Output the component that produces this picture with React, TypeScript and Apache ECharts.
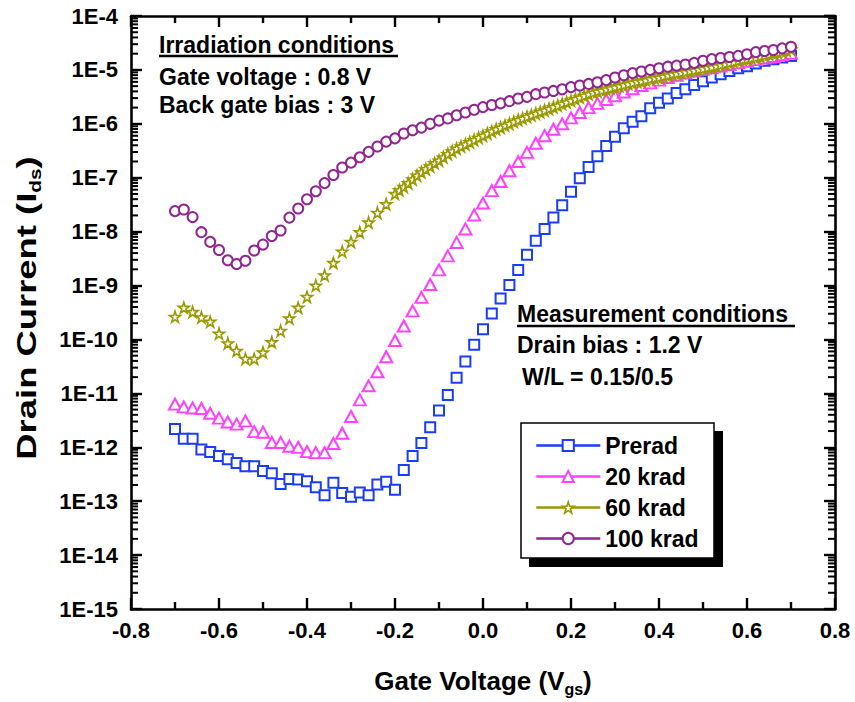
import React, { useEffect, useRef } from "react";
import * as echarts from "echarts";

const FONT = 'Arial, "Liberation Sans", sans-serif';
const BLUE = "#1a3cff";
const PINK = "#ff40ff";
const OLIVE = "#999900";
const PURPLE = "#912591";

// Gate voltage sweep (V), 0.02 V steps
const VGS = [
  -0.7, -0.68, -0.66, -0.64, -0.62, -0.6, -0.58, -0.56, -0.54, -0.52, -0.5, -0.48, -0.46, -0.44, -0.42, -0.4,
  -0.38, -0.36, -0.34, -0.32, -0.3, -0.28, -0.26, -0.24, -0.22, -0.2, -0.18, -0.16, -0.14, -0.12, -0.1, -0.08,
  -0.06, -0.04, -0.02, 0.0, 0.02, 0.04, 0.06, 0.08, 0.1, 0.12, 0.14, 0.16, 0.18, 0.2, 0.22, 0.24, 0.26, 0.28,
  0.3, 0.32, 0.34, 0.36, 0.38, 0.4, 0.42, 0.44, 0.46, 0.48, 0.5, 0.52, 0.54, 0.56, 0.58, 0.6, 0.62, 0.64, 0.66,
  0.68, 0.7,
];

// 60 krad sweep: 0.02 V steps, then 0.01 V steps from -0.20 V
const VGS_60 = [
  -0.7, -0.68, -0.66, -0.64, -0.62, -0.6, -0.58, -0.56, -0.54, -0.52, -0.5, -0.48, -0.46, -0.44, -0.42, -0.4,
  -0.38, -0.36, -0.34, -0.32, -0.3, -0.28, -0.26, -0.24, -0.22,
  -0.2, -0.19, -0.18, -0.17, -0.16, -0.15, -0.14, -0.13, -0.12, -0.11, -0.1, -0.09, -0.08, -0.07, -0.06, -0.05,
  -0.04, -0.03, -0.02, -0.01, 0.0, 0.01, 0.02, 0.03, 0.04, 0.05, 0.06, 0.07, 0.08, 0.09, 0.1, 0.11, 0.12, 0.13,
  0.14, 0.15, 0.16, 0.17, 0.18, 0.19, 0.2, 0.21, 0.22, 0.23, 0.24, 0.25, 0.26, 0.27, 0.28, 0.29, 0.3, 0.31, 0.32,
  0.33, 0.34, 0.35, 0.36, 0.37, 0.38, 0.39, 0.4, 0.41, 0.42, 0.43, 0.44, 0.45, 0.46, 0.47, 0.48, 0.49, 0.5, 0.51,
  0.52, 0.53, 0.54, 0.55, 0.56, 0.57, 0.58, 0.59, 0.6, 0.61, 0.62, 0.63, 0.64, 0.65, 0.66, 0.67, 0.68, 0.69, 0.7,
];

// Drain current, as log10(Ids [A])
const PRERAD_LOG = [
  -11.66, -11.84, -11.84, -12.04, -12.09, -12.16, -12.22, -12.29, -12.35, -12.35, -12.44, -12.48, -12.68, -12.59,
  -12.6, -12.63, -12.74, -12.89, -12.66, -12.85, -12.92, -12.84, -12.89, -12.69, -12.64, -12.79, -12.42, -12.16,
  -11.92, -11.63, -11.32, -11.03, -10.71, -10.41, -10.1, -9.81, -9.52, -9.24, -8.99, -8.71, -8.43, -8.17, -7.95,
  -7.74, -7.51, -7.26, -7.01, -6.8, -6.6, -6.41, -6.24, -6.08, -5.96, -5.86, -5.71, -5.61, -5.53, -5.43, -5.36,
  -5.28, -5.21, -5.14, -5.08, -5.02, -4.97, -4.93, -4.88, -4.83, -4.8, -4.77, -4.74,
];
const KRAD20_LOG = [
  -11.2, -11.25, -11.27, -11.28, -11.37, -11.46, -11.53, -11.57, -11.51, -11.71, -11.72, -11.91, -11.91, -11.98,
  -12.0, -12.08, -12.1, -12.1, -11.93, -11.74, -11.43, -11.12, -10.86, -10.6, -10.32, -10.02, -9.75, -9.47, -9.22,
  -8.98, -8.71, -8.45, -8.2, -7.95, -7.69, -7.47, -7.24, -7.07, -6.87, -6.7, -6.53, -6.36, -6.22, -6.1, -6.0,
  -5.89, -5.79, -5.7, -5.62, -5.55, -5.48, -5.41, -5.35, -5.29, -5.24, -5.19, -5.14, -5.1, -5.06, -5.02, -4.99,
  -4.96, -4.93, -4.9, -4.87, -4.84, -4.81, -4.78, -4.75, -4.72, -4.69,
];
const KRAD60_LOG = [
  -9.58, -9.41, -9.49, -9.59, -9.67, -9.89, -10.07, -10.21, -10.36, -10.36, -10.24, -10.05, -9.84, -9.61, -9.41,
  -9.21, -9.0, -8.81, -8.58, -8.37, -8.19, -8.01, -7.83, -7.65, -7.49,
  -7.3, -7.23, -7.17, -7.1, -7.03, -6.96, -6.9, -6.84, -6.79, -6.73, -6.68, -6.62, -6.56, -6.51, -6.46, -6.42,
  -6.38, -6.34, -6.3, -6.26, -6.22, -6.18, -6.14, -6.1, -6.07, -6.03, -6.0, -5.96, -5.93, -5.9, -5.87, -5.84,
  -5.81, -5.78, -5.75, -5.72, -5.69, -5.66, -5.63, -5.6, -5.57, -5.54, -5.51, -5.48, -5.45, -5.42, -5.4, -5.38,
  -5.36, -5.34, -5.32, -5.3, -5.28, -5.26, -5.24, -5.22, -5.21, -5.19, -5.17, -5.15, -5.14, -5.12, -5.1, -5.08,
  -5.07, -5.05, -5.04, -5.02, -5.01, -4.99, -4.98, -4.96, -4.95, -4.93, -4.91, -4.89, -4.87, -4.85, -4.83, -4.81,
  -4.8, -4.78, -4.77, -4.75, -4.73, -4.71, -4.69, -4.68, -4.66, -4.64, -4.62,
];
const KRAD100_LOG = [
  -7.62, -7.59, -7.73, -8.01, -8.19, -8.34, -8.53, -8.6, -8.54, -8.35, -8.24, -8.08, -7.98, -7.74, -7.57, -7.4,
  -7.25, -7.1, -6.95, -6.81, -6.72, -6.62, -6.52, -6.42, -6.33, -6.27, -6.18, -6.12, -6.07, -6.0, -5.94, -5.9,
  -5.84, -5.79, -5.74, -5.69, -5.65, -5.62, -5.58, -5.53, -5.5, -5.45, -5.42, -5.39, -5.36, -5.32, -5.29, -5.26,
  -5.23, -5.19, -5.14, -5.1, -5.06, -5.03, -5.0, -4.97, -4.94, -4.92, -4.9, -4.87, -4.83, -4.8, -4.78, -4.76,
  -4.74, -4.71, -4.67, -4.65, -4.63, -4.6, -4.57,
];

const SERIES_NAMES = ["Prerad", "20 krad", "60 krad", "100 krad"];

// Axis ticks
const X_MIN = -0.8;
const X_MAX = 0.8;
const X_STEP = 0.2;
const Y_MIN = 1e-15;
const Y_MAX = 1e-4;
const Y_DECADES = [-15, -14, -13, -12, -11, -10, -9, -8, -7, -6, -5];
const Y_MINOR_MANT = [2, 3, 4, 5, 6, 7, 8, 9];

const STAR =
  "path://M50,2 L61.2,36.6 L97.6,36.6 L68.2,58 L79.4,92.6 L50,71.2 L20.6,92.6 L31.8,58 L2.4,36.6 L38.8,36.6 Z";

function pairs(xs: number[], logs: number[]) {
  return xs.map((x, i) => [x, Math.pow(10, logs[i])]);
}

export default function App() {
  const ref = useRef<HTMLDivElement>(null);

  useEffect(() => {
    if (!ref.current) return;
    const chart = echarts.init(ref.current, undefined, { renderer: "svg" });

    const minorVals: number[] = [];
    Y_DECADES.forEach((e) => {
      Y_MINOR_MANT.forEach((m) => minorVals.push(m * Math.pow(10, e)));
    });

    const axisLine = { show: true, onZero: false, lineStyle: { color: "#000", width: 2.6 } };
    const majorTick = { show: true, inside: true, length: 11, lineStyle: { color: "#000", width: 2.4 } };

    const xBase = {
      type: "value",
      min: X_MIN,
      max: X_MAX,
      interval: X_STEP,
      axisLine,
      axisTick: majorTick,
      minorTick: { show: true, splitNumber: 2, length: 7, lineStyle: { color: "#000", width: 2.4 } },
      splitLine: { show: false },
      minorSplitLine: { show: false },
    };

    const yMajor = (pos: string, labels: boolean) => ({
      type: "log",
      logBase: 10,
      min: Y_MIN,
      max: Y_MAX,
      interval: 1,
      position: pos,
      axisLine,
      axisTick: majorTick,
      axisLabel: labels
        ? {
            show: true,
            formatter: (v: number) => "1E" + Math.round(Math.log10(v)),
            fontSize: 22,
            fontWeight: "bold",
            fontFamily: FONT,
            color: "#000",
            margin: 13,
          }
        : { show: false },
      splitLine: { show: false },
    });

    const mk = (name: string, xs: number[], logs: number[], color: string, symbol: string, size: any, bw: number) => ({
      type: "line",
      name,
      data: pairs(xs, logs),
      xAxisIndex: 0,
      yAxisIndex: 0,
      symbol,
      symbolSize: size,
      showSymbol: true,
      showAllSymbol: true,
      lineStyle: { opacity: 0, width: 0 },
      itemStyle: { color: "#fff", borderColor: color, borderWidth: bw },
      emphasis: { disabled: true },
      silent: true,
      z: 2,
    });

    const legendItem = (name: string, color: string, bw: number) => ({
      name,
      itemStyle: { color: "#fff", borderColor: color, borderWidth: bw },
      lineStyle: { color, width: 2.5, opacity: 1 },
    });

    const subRich = { s: { fontSize: 16, fontWeight: "bold", fontFamily: FONT, padding: [17, 0, 0, 0] } };

    const txt = (text: string, x: number, y: number) => ({
      type: "text",
      x,
      y,
      z: 10,
      silent: true,
      style: { text, fontSize: 23, fontWeight: "bold", fontFamily: FONT, fill: "#000", verticalAlign: "middle", align: "left" },
    });

    // Log-spaced minor ticks on the left and right frame, placed through the chart's own y scale
    const minorTickSeries = {
      type: "custom",
      name: "minor-ticks",
      xAxisIndex: 0,
      yAxisIndex: 0,
      silent: true,
      clip: false,
      z: 5,
      data: minorVals.map((v) => [X_MIN, v]),
      renderItem: (_params: any, api: any) => {
        const v = api.value(1);
        const pL = api.coord([X_MIN, v]);
        const pR = api.coord([X_MAX, v]);
        const st = { stroke: "#000", lineWidth: 2 };
        return {
          type: "group",
          children: [
            { type: "line", shape: { x1: pL[0], y1: pL[1], x2: pL[0] + 7, y2: pL[1] }, style: st },
            { type: "line", shape: { x1: pR[0] - 7, y1: pR[1], x2: pR[0], y2: pR[1] }, style: st },
          ],
        };
      },
    };

    chart.setOption({
      animation: false,
      backgroundColor: "#fff",
      grid: { left: 131, right: 20, top: 16, bottom: 93, containLabel: false },
      xAxis: [
        {
          ...xBase,
          position: "bottom",
          axisLabel: {
            show: true,
            fontSize: 22,
            fontWeight: "bold",
            fontFamily: FONT,
            color: "#000",
            margin: 10,
            formatter: (v: number) => (Math.abs(v) < 1e-9 ? "0.0" : v.toFixed(1)),
          },
        },
        { ...xBase, position: "top", axisLabel: { show: false } },
      ],
      yAxis: [yMajor("left", true), yMajor("right", false)],
      legend: {
        orient: "vertical",
        left: 535,
        top: 434,
        padding: 0,
        itemWidth: 64,
        itemHeight: 14,
        itemGap: 8,
        selectedMode: false,
        z: 12,
        textStyle: { fontSize: 23, fontWeight: "bold", fontFamily: FONT, color: "#000" },
        data: [
          legendItem(SERIES_NAMES[0], BLUE, 2),
          legendItem(SERIES_NAMES[1], PINK, 2),
          legendItem(SERIES_NAMES[2], OLIVE, 1.6),
          legendItem(SERIES_NAMES[3], PURPLE, 2),
        ],
      },
      graphic: [
        { type: "rect", z: 8, silent: true, shape: { x: 529, y: 431, width: 194, height: 136 }, style: { fill: "#000" } },
        {
          type: "rect",
          z: 9,
          silent: true,
          shape: { x: 521, y: 423, width: 193, height: 135 },
          style: { fill: "#fff", stroke: "#000", lineWidth: 1.5 },
        },
        txt("Irradiation conditions", 159, 45),
        { type: "line", z: 10, silent: true, shape: { x1: 159, y1: 56, x2: 398, y2: 56 }, style: { stroke: "#000", lineWidth: 2.5 } },
        txt("Gate voltage : 0.8 V", 159, 77),
        txt("Back gate bias : 3 V", 159, 105),
        txt("Measurement conditions", 517, 314),
        { type: "line", z: 10, silent: true, shape: { x1: 517, y1: 326, x2: 795, y2: 326 }, style: { stroke: "#000", lineWidth: 2.5 } },
        txt("Drain bias : 1.2 V", 517, 345),
        txt("W/L = 0.15/0.5", 522, 377),
        {
          type: "text",
          x: 483,
          y: 681,
          z: 10,
          silent: true,
          style: {
            text: "Gate Voltage (V{s|gs})",
            fontSize: 26,
            fontWeight: "bold",
            fontFamily: FONT,
            fill: "#000",
            align: "center",
            verticalAlign: "middle",
            rich: subRich,
          },
        },
        {
          type: "text",
          x: 27,
          y: 308,
          rotation: Math.PI / 2,
          scaleX: 1.3,
          z: 10,
          silent: true,
          style: {
            text: "Drain Current (I{s|ds})",
            fontSize: 28,
            fontWeight: "bold",
            fontFamily: FONT,
            fill: "#000",
            align: "center",
            verticalAlign: "middle",
            rich: subRich,
          },
        },
      ],
      series: [
        mk(SERIES_NAMES[0], VGS, PRERAD_LOG, BLUE, "rect", 10, 2),
        mk(SERIES_NAMES[1], VGS, KRAD20_LOG, PINK, "triangle", [12, 11], 2),
        mk(SERIES_NAMES[2], VGS_60, KRAD60_LOG, OLIVE, STAR, 11, 1.6),
        mk(SERIES_NAMES[3], VGS, KRAD100_LOG, PURPLE, "circle", 10, 2),
        minorTickSeries,
      ],
    });

    return () => chart.dispose();
  }, []);

  return <div ref={ref} style={{ position: "fixed", left: 0, top: 0, width: 855, height: 702 }} />;
}
